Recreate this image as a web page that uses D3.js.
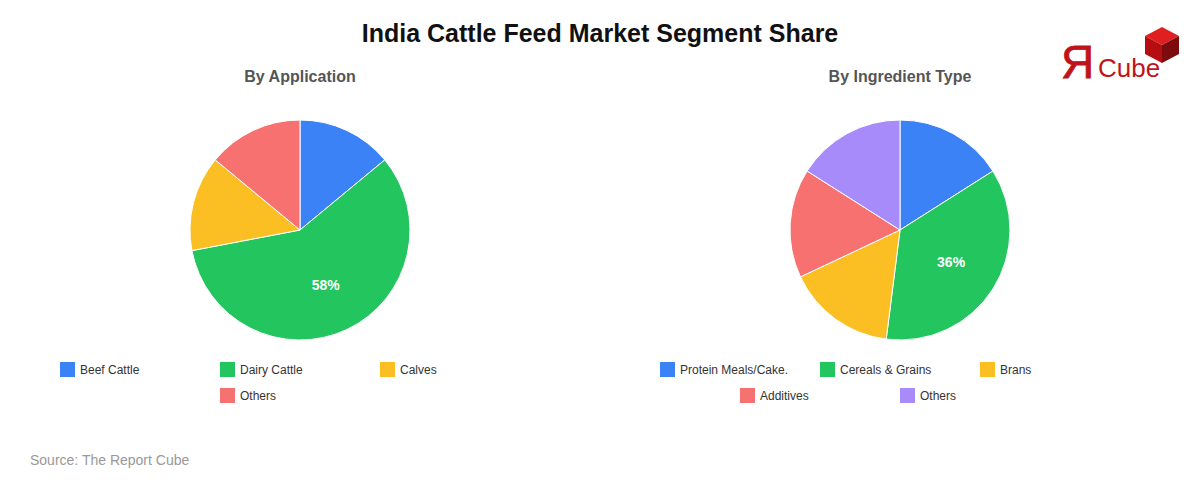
<!DOCTYPE html>
<html>
<head>
<meta charset="utf-8">
<script src="https://cdn.jsdelivr.net/npm/d3@7"></script>
<style>
  body { margin: 0; background: #fff; }
  svg { font-family: "Liberation Sans", Arial, sans-serif; }
</style>
</head>
<body>
<svg id="svg" width="1200" height="480"></svg>
<script>
// data
var appLabels = ['Beef Cattle', 'Dairy Cattle', 'Calves', 'Others'];
var appValues = [14, 58, 14, 14];
var ingLabels = ['Protein Meals/Cake.', 'Cereals & Grains', 'Brans', 'Additives', 'Others'];
var ingValues = [16, 36, 16, 16, 16];
var palette = ['#3b82f6', '#22c55e', '#fbbf24', '#f87171', '#a78bfa'];

var svg = d3.select('svg');

svg.append('text')
    .attr('x', 600).attr('y', 42)
    .attr('text-anchor', 'middle')
    .attr('font-size', 25).attr('font-weight', 'bold')
    .attr('fill', '#111')
    .text('India Cattle Feed Market Segment Share');

svg.append('text')
    .attr('x', 30).attr('y', 465)
    .attr('font-size', 14).attr('fill', '#999')
    .text('Source: The Report Cube');

// logo
var logo = svg.append('g').attr('transform', 'translate(1060,20)');
logo.append('text').attr('x', 1).attr('y', 58)
    .attr('font-size', 46).attr('fill', '#c0141b')
    .attr('stroke', '#c0141b').attr('stroke-width', 0.8)
    .text('Я');
logo.append('text').attr('x', 38).attr('y', 57)
    .attr('font-size', 26).attr('fill', '#c0141b')
    .text('Cube');
logo.append('polygon').attr('points', '85,16 102,7 119,16 102,25').attr('fill', '#e02020');
logo.append('polygon').attr('points', '85,16 102,25 102,43 85,34').attr('fill', '#b50d12');
logo.append('polygon').attr('points', '102,25 119,16 119,34 102,43').attr('fill', '#7d0a0c');

function drawPie(cx, title, labels, values) {
    var g = svg.append('g');
    g.append('text')
        .attr('x', cx).attr('y', 82)
        .attr('text-anchor', 'middle')
        .attr('font-size', 16).attr('font-weight', 'bold')
        .attr('fill', '#555')
        .text(title);

    var r = 110;
    var data = labels.map(function(l, i) { return {label: l, value: values[i], color: palette[i]}; });
    var pie = d3.pie().sort(null).value(function(d) { return d.value; });
    var arc = d3.arc().innerRadius(0).outerRadius(r);
    var labelArc = d3.arc().innerRadius(r * 0.55).outerRadius(r * 0.55);
    var total = d3.sum(values);

    var pg = g.append('g').attr('transform', 'translate(' + cx + ',230)');
    var arcs = pie(data);
    pg.selectAll('path')
        .data(arcs)
        .enter()
        .append('path')
        .attr('d', arc)
        .attr('fill', function(d) { return d.data.color; })
        .attr('stroke', 'white')
        .attr('stroke-width', 1);

    pg.selectAll('text')
        .data(arcs.filter(function(d) { return d.data.value / total > 0.2; }))
        .enter()
        .append('text')
        .attr('transform', function(d) { return 'translate(' + labelArc.centroid(d) + ')'; })
        .attr('text-anchor', 'middle')
        .attr('dy', '0.35em')
        .attr('font-size', 14).attr('font-weight', 'bold')
        .attr('fill', '#fff')
        .text(function(d) { return Math.round(d.data.value / total * 100) + '%'; });

    // legend, 3 per row, each row centered
    var itemW = 160, perRow = 3;
    var lg = g.append('g');
    data.forEach(function(d, i) {
        var row = Math.floor(i / perRow);
        var inRow = Math.min(perRow, data.length - row * perRow);
        var col = i % perRow;
        var x0 = cx - inRow * itemW / 2 + col * itemW;
        var y0 = 362 + row * 26;
        lg.append('rect')
            .attr('x', x0).attr('y', y0)
            .attr('width', 15).attr('height', 15)
            .attr('fill', d.color);
        lg.append('text')
            .attr('x', x0 + 20).attr('y', y0 + 12)
            .attr('font-size', 12).attr('fill', '#333')
            .text(d.label);
    });
}

drawPie(300, 'By Application', appLabels, appValues);
drawPie(900, 'By Ingredient Type', ingLabels, ingValues);
</script>
</body>
</html>
